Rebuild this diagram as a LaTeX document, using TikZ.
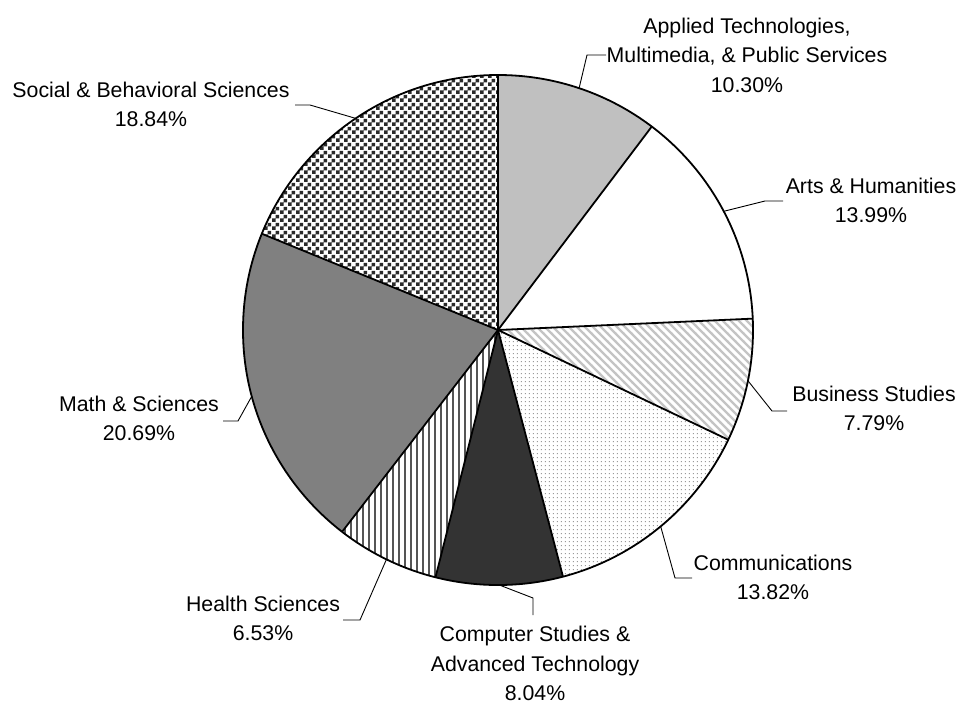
\documentclass[tikz,border=0pt]{standalone}
\usepackage{fontspec}
\setmainfont{Liberation Sans}
\usetikzlibrary{patterns,calc}

\pgfdeclarepatternformonly{pchecker}{\pgfpointorigin}{\pgfpoint{8pt}{8pt}}{\pgfpoint{8pt}{8pt}}{%
  \pgfpathrectangle{\pgfpointorigin}{\pgfpoint{4pt}{4pt}}%
  \pgfpathrectangle{\pgfpoint{4pt}{4pt}}{\pgfpoint{4pt}{4pt}}%
  \pgfusepath{fill}}
\pgfdeclarepatternformonly{pdiag}{\pgfpoint{-1pt}{-1pt}}{\pgfpoint{9pt}{9pt}}{\pgfpoint{8pt}{8pt}}{%
  \pgfsetlinewidth{2.3pt}%
  \pgfpathmoveto{\pgfpoint{-1pt}{9pt}}\pgfpathlineto{\pgfpoint{9pt}{-1pt}}%
  \pgfusepath{stroke}}
\pgfdeclarepatternformonly{pdots}{\pgfpointorigin}{\pgfpoint{4pt}{4pt}}{\pgfpoint{4pt}{4pt}}{%
  \pgfpathrectangle{\pgfpoint{1pt}{1pt}}{\pgfpoint{1.4pt}{1.4pt}}%
  \pgfusepath{fill}}
\pgfdeclarepatternformonly{pvert}{\pgfpoint{0pt}{-1pt}}{\pgfpoint{6pt}{7pt}}{\pgfpoint{6pt}{6pt}}{%
  \pgfsetlinewidth{1.5pt}%
  \pgfpathmoveto{\pgfpoint{3pt}{-1pt}}\pgfpathlineto{\pgfpoint{3pt}{7pt}}%
  \pgfusepath{stroke}}

\definecolor{applc}{HTML}{C0C0C0}
\definecolor{mathc}{HTML}{808080}
\definecolor{compc}{HTML}{333333}
\definecolor{chkc}{HTML}{2A2A2A}
\definecolor{diagc}{HTML}{C4C4C4}
\definecolor{dotc}{HTML}{9A9A9A}
\definecolor{vertc}{HTML}{555555}

\begin{document}
\begin{tikzpicture}[x=1pt,y=-1pt,
  lab/.style={font=\fontsize{21.3}{29.5}\selectfont, align=center, inner sep=0pt, anchor=north},
  leader/.style={draw=black, line width=0.9pt},
  edge/.style={draw=black, line width=1.8pt, line join=round}]
\useasboundingbox (0,0) rectangle (960,702);
\def\R{255}
\coordinate (c) at (498,330);

% slices
\fill[applc] (c) -- +(-90:\R) arc[start angle=-90, end angle=-52.92, radius=\R] -- cycle;
\fill[white] (c) -- +(-52.92:\R) arc[start angle=-52.92, end angle=-2.556, radius=\R] -- cycle;
\fill[pattern=pdiag, pattern color=diagc] (c) -- +(-2.556:\R) arc[start angle=-2.556, end angle=25.488, radius=\R] -- cycle;
\fill[pattern=pdots, pattern color=dotc] (c) -- +(25.488:\R) arc[start angle=25.488, end angle=75.24, radius=\R] -- cycle;
\fill[compc] (c) -- +(75.24:\R) arc[start angle=75.24, end angle=104.184, radius=\R] -- cycle;
\fill[pattern=pvert, pattern color=vertc] (c) -- +(104.184:\R) arc[start angle=104.184, end angle=127.692, radius=\R] -- cycle;
\fill[mathc] (c) -- +(127.692:\R) arc[start angle=127.692, end angle=202.176, radius=\R] -- cycle;
\fill[pattern=pchecker, pattern color=chkc] (c) -- +(202.176:\R) arc[start angle=202.176, end angle=270, radius=\R] -- cycle;

% boundaries
\foreach \a in {-90,-52.92,-2.556,25.488,75.24,104.184,127.692,202.176}
  \draw[edge] (c) -- +(\a:\R);
\draw[edge] (c) circle[radius=\R];

% leader anchor points on the arc (slice midpoints)
\coordinate (mA) at ($(c)+(-71.46:\R)$);
\coordinate (mB) at ($(c)+(-27.74:\R)$);
\coordinate (mC) at ($(c)+(11.466:\R)$);
\coordinate (mD) at ($(c)+(50.364:\R)$);
\coordinate (mE) at ($(c)+(89.712:\R)$);
\coordinate (mF) at ($(c)+(115.938:\R)$);
\coordinate (mG) at ($(c)+(164.934:\R)$);
\coordinate (mH) at ($(c)+(236.088:\R)$);

% elbows and ends
\coordinate (eA) at (587,55);  \coordinate (hA) at (606,55);
\coordinate (eB) at (765,201); \coordinate (hB) at (783,201);
\coordinate (eC) at (772,411); \coordinate (hC) at (787,411);
\coordinate (eD) at (675,578); \coordinate (hD) at (692,578);
\coordinate (eE) at (533,598); \coordinate (hE) at (533,615);
\coordinate (eF) at (360,620); \coordinate (hF) at (343,620);
\coordinate (eG) at (238,421); \coordinate (hG) at (223,421);
\coordinate (eH) at (310,105); \coordinate (hH) at (295,105);

\foreach \s in {A,B,C,D,E,F,G,H}
  \draw[leader] (m\s) -- (e\s) -- (h\s);

% labels
\node[lab] (lA) at (747,17.7) {Applied Technologies,\\Multimedia, \& Public Services\\10.30\%};
\node[lab] (lB) at (871,177.5) {Arts \& Humanities\\13.99\%};
\node[lab] (lC) at (874,385.5) {Business Studies\\7.79\%};
\node[lab] (lD) at (773,554.5) {Communications\\13.82\%};
\node[lab] (lE) at (535,626) {Computer Studies \&\\Advanced Technology\\8.04\%};
\node[lab] (lF) at (263,595.5) {Health Sciences\\6.53\%};
\node[lab] (lG) at (139,395.5) {Math \& Sciences\\20.69\%};
\node[lab] (lH) at (151,81.5) {Social \& Behavioral Sciences\\18.84\%};
\end{tikzpicture}
\end{document}
